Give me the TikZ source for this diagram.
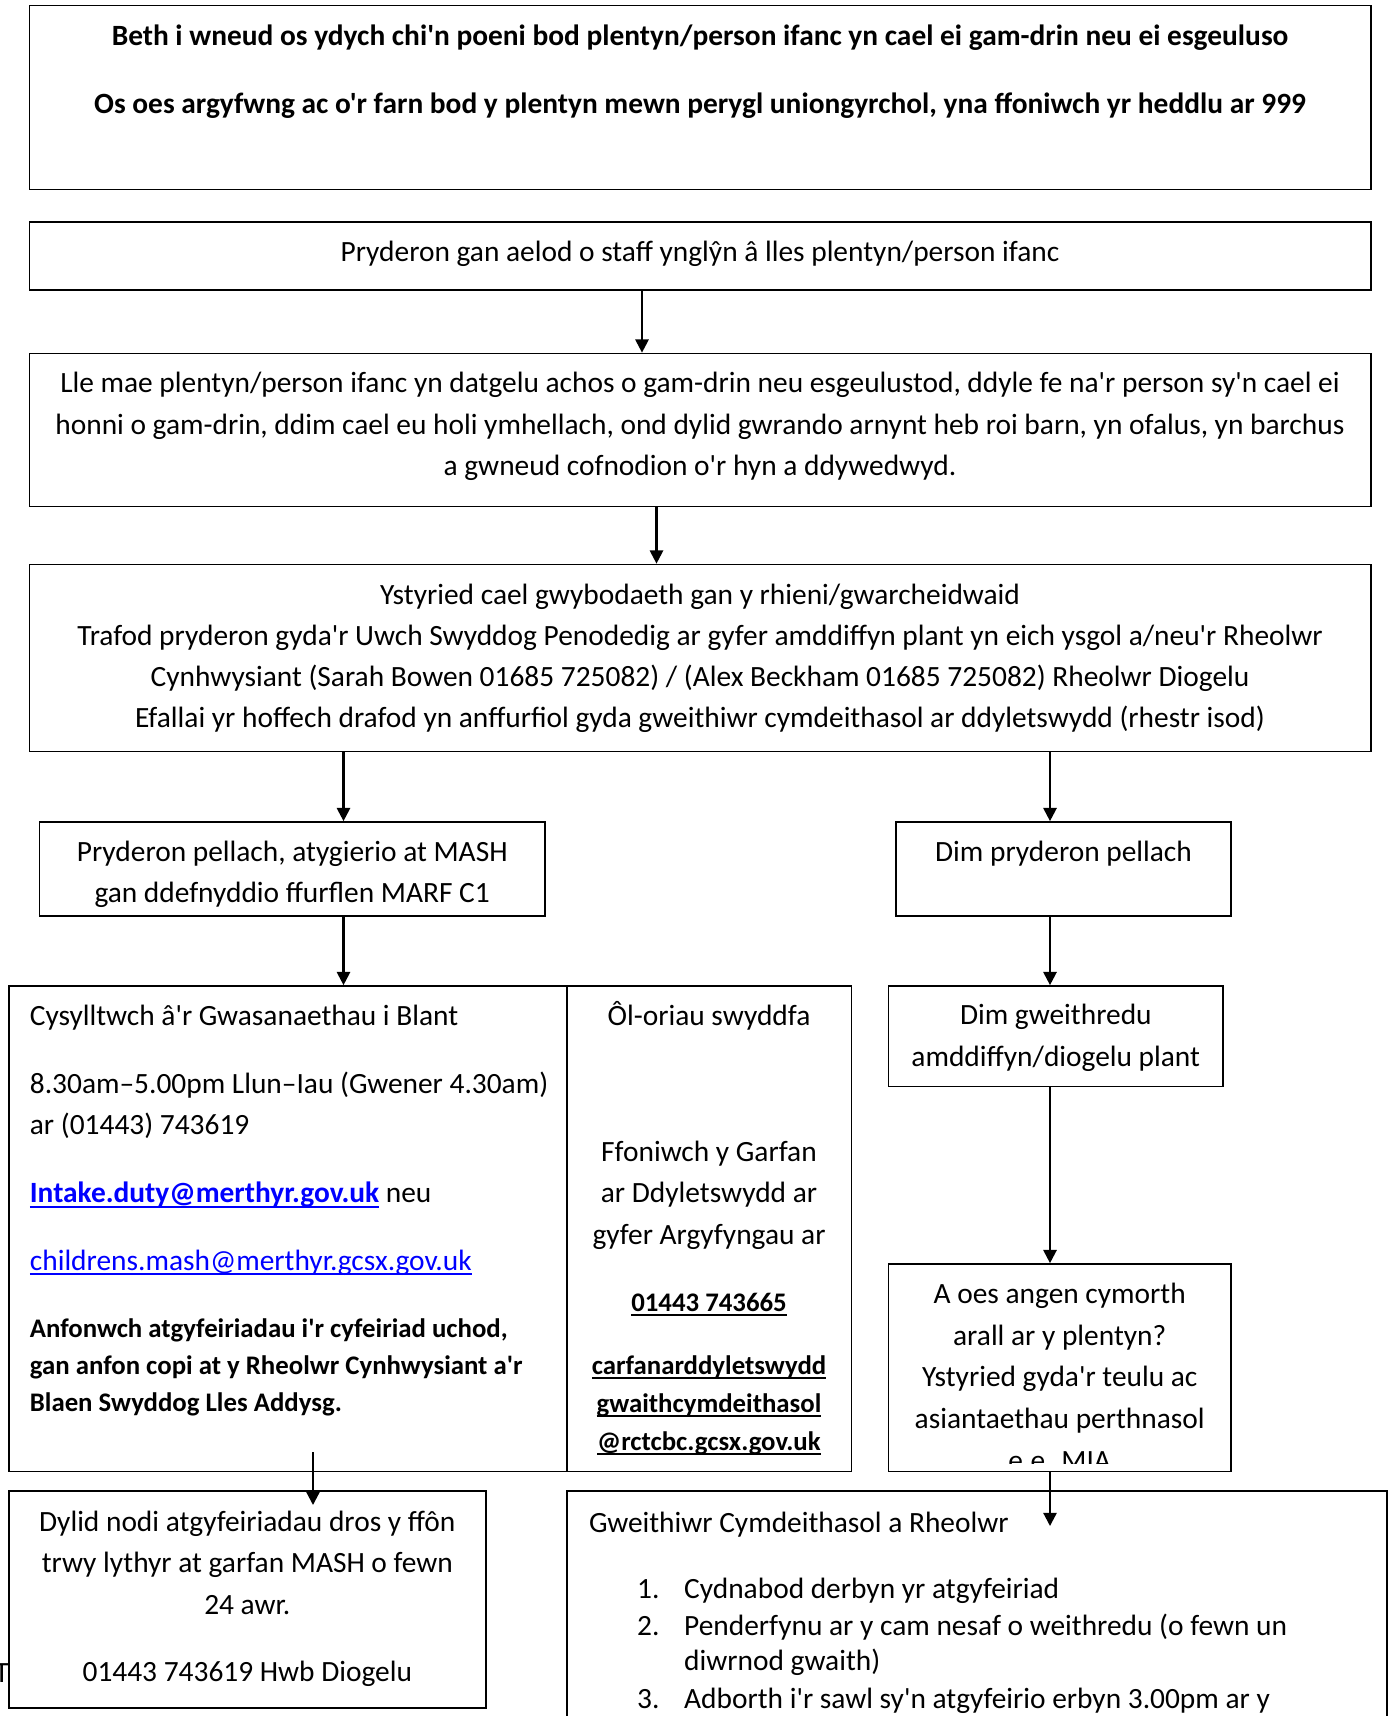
\documentclass[tikz,border=0pt]{standalone}
\usepackage{fontspec}
\setmainfont{Carlito}[Ligatures=TeXOff]
\usetikzlibrary{arrows.meta,fit}
\definecolor{linkblue}{RGB}{0,0,255}
\newcommand\bodyfont{\fontsize{14.7pt}{20.8pt}\selectfont}
\newcommand\smallbold{\fontsize{13.4pt}{18.5pt}\selectfont\bfseries}
\newcommand\wul[1]{\setbox0=\hbox{#1}\rlap{\rule[-0.17em]{\wd0}{0.065em}}\box0}
\begin{document}
\begin{tikzpicture}[x=0.5pt,y=-0.5pt,
  box/.style={draw, line width=0.85pt, inner sep=0pt, rectangle},
  txt/.style={inner sep=0pt, anchor=base, font=\bodyfont},
  ltxt/.style={inner sep=0pt, anchor=base west, font=\bodyfont},
  btxt/.style={txt, font=\bodyfont\bfseries},
  sbtxt/.style={txt, font=\smallbold},
  arr/.style={line width=1.1pt, -{Triangle[width=6.6pt,length=6.6pt]}}]
\useasboundingbox (0,0) rectangle (1395,1716);
\fill[white] (0,0) rectangle (1395,1716);
\clip (0,0) rectangle (1395,1716);

% boxes
\node[box, fit={(29.5,5.5) (1371,189.5)}] (b1) {};
\node[box, fit={(29.5,222) (1371,290)}] (b2) {};
\node[box, fit={(29.5,353.5) (1371,506.5)}] (b3) {};
\node[box, fit={(29.5,564.5) (1371,751.5)}] (b4) {};
\node[box, fit={(39.4,822) (545,916)}] (b5) {};
\node[box, fit={(896,822) (1231,916)}] (b6) {};
\node[box, fit={(8.75,986) (566.7,1471.6)}] (b7) {};
\node[box, fit={(566.7,986) (851.5,1471.6)}] (b8) {};
\node[box, fit={(888.4,986) (1223.3,1086.4)}] (b9) {};
\node[box, fit={(888.4,1264) (1231,1471.6)}] (b10) {};
\node[box, fit={(8.75,1491) (485.8,1708)}] (b11) {};
\node[box, fit={(566.7,1491) (1387.3,1760)}] (b12) {};

% texts
\node[btxt] (t1a) at (700,46) {Beth i wneud os ydych chi'n poeni bod plentyn/person ifanc yn cael ei gam-drin neu ei esgeuluso};
\node[btxt] (t1b) at (700,114) {Os oes argyfwng ac o'r farn bod y plentyn mewn perygl uniongyrchol, yna ffoniwch yr heddlu ar 999};

\node[txt] (t2) at (700,261.6) {Pryderon gan aelod o staff ynglŷn â lles plentyn/person ifanc};

\node[txt] (t3a) at (700,393) {Lle mae plentyn/person ifanc yn datgelu achos o gam-drin neu esgeulustod, ddyle fe na'r person sy'n cael ei};
\node[txt] (t3b) at (700,434.5) {honni o gam-drin, ddim cael eu holi ymhellach, ond dylid gwrando arnynt heb roi barn, yn ofalus, yn barchus};
\node[txt] (t3c) at (700,476) {a gwneud cofnodion o'r hyn a ddywedwyd.};

\node[txt] (t4a) at (700,604) {Ystyried cael gwybodaeth gan y rhieni/gwarcheidwaid};
\node[txt] (t4b) at (700,645.7) {Trafod pryderon gyda'r Uwch Swyddog Penodedig ar gyfer amddiffyn plant yn eich ysgol a/neu'r Rheolwr};
\node[txt] (t4c) at (700,686) {Cynhwysiant (Sarah Bowen 01685 725082) / (Alex Beckham 01685 725082) Rheolwr Diogelu};
\node[txt] (t4d) at (700,727.7) {Efallai yr hoffech drafod yn anffurfiol gyda gweithiwr cymdeithasol ar ddyletswydd (rhestr isod)};

\begin{scope}
\clip (39.4,822) rectangle (545,907);
\node[txt] (t5a) at (292.2,861) {Pryderon pellach, atygierio at MASH};
\node[txt] (t5b) at (292.2,902.7) {gan ddefnyddio ffurflen MARF C1};
\end{scope}

\node[txt] (t6) at (1063.5,861) {Dim pryderon pellach};

\node[ltxt] (t7a) at (29.5,1025) {Cysylltwch â'r Gwasanaethau i Blant};
\node[ltxt] (t7b) at (29.5,1093) {8.30am–5.00pm Llun–Iau (Gwener 4.30am)};
\node[ltxt] (t7c) at (29.5,1134.7) {ar (01443) 743619};
\node[ltxt] (t7d) at (29.5,1202.6) {\textcolor{linkblue}{\wul{\bfseries Intake.duty@merthyr.gov.uk}} neu};
\node[ltxt] (t7e) at (29.5,1270) {\textcolor{linkblue}{\wul{childrens.mash@merthyr.gcsx.gov.uk}}};
\node[ltxt, font=\smallbold] (t7f) at (29.5,1337) {Anfonwch atgyfeiriadau i'r cyfeiriad uchod,};
\node[ltxt, font=\smallbold] (t7g) at (29.5,1374) {gan anfon copi at y Rheolwr Cynhwysiant a'r};
\node[ltxt, font=\smallbold] (t7h) at (29.5,1411.5) {Blaen Swyddog Lles Addysg.};

\node[txt] (t8a) at (709,1025) {Ôl-oriau swyddfa};
\node[txt] (t8b) at (709,1161) {Ffoniwch y Garfan};
\node[txt] (t8c) at (709,1202.6) {ar Ddyletswydd ar};
\node[txt] (t8d) at (709,1244) {gyfer Argyfyngau ar};
\node[sbtxt] (t8e) at (709,1311) {\wul{01443 743665}};
\node[sbtxt] (t8f) at (709,1374) {\wul{carfanarddyletswydd}};
\node[sbtxt] (t8g) at (709,1412.6) {\wul{gwaithcymdeithasol}};
\node[sbtxt] (t8h) at (709,1450) {\wul{@rctcbc.gcsx.gov.uk}};

\node[txt] (t9a) at (1055.8,1024.5) {Dim gweithredu};
\node[txt] (t9b) at (1055.8,1066) {amddiffyn/diogelu plant};

\begin{scope}
\clip (888.4,1264) rectangle (1231,1463);
\node[txt] (t10a) at (1059.7,1303) {A oes angen cymorth};
\node[txt] (t10b) at (1059.7,1345) {arall ar y plentyn?};
\node[txt] (t10c) at (1059.7,1386.5) {Ystyried gyda'r teulu ac};
\node[txt] (t10d) at (1059.7,1428) {asiantaethau perthnasol};
\node[txt] (t10e) at (1059.7,1470) {e.e. MIA};
\end{scope}

\node[txt] (t11a) at (247.3,1531) {Dylid nodi atgyfeiriadau dros y ffôn};
\node[txt] (t11b) at (247.3,1572.5) {trwy lythyr at garfan MASH o fewn};
\node[txt] (t11c) at (247.3,1614) {24 awr.};
\node[txt] (t11d) at (247.3,1681.7) {01443 743619 Hwb Diogelu};

\node[ltxt] (t12) at (588.6,1532) {Gweithiwr Cymdeithasol a Rheolwr};
\node[ltxt] (n1) at (636.8,1598.6) {1.};
\node[ltxt] (l1) at (683.8,1598.6) {Cydnabod derbyn yr atgyfeiriad};
\node[ltxt] (n2) at (636.8,1635.7) {2.};
\node[ltxt] (l2) at (683.8,1635.7) {Penderfynu ar y cam nesaf o weithredu (o fewn un};
\node[ltxt] (l2b) at (683.8,1670.7) {diwrnod gwaith)};
\node[ltxt] (n3) at (636.8,1708) {3.};
\node[ltxt] (l3) at (683.8,1708) {Adborth i'r sawl sy'n atgyfeirio erbyn 3.00pm ar y};

\node[txt] (tstray) at (1.7,1682) {T};

% arrow coordinates
\coordinate (xa) at (642,0);
\coordinate (xb) at (656.5,0);
\coordinate (xc) at (343.5,0);
\coordinate (xd) at (1050,0);
\coordinate (s9) at (313,1452);
\coordinate (e9) at (313,1505);
\coordinate (e8) at (1050,1526);

\draw[arr] (b2.south -| xa) -- (b3.north -| xa);
\draw[arr] (b3.south -| xb) -- (b4.north -| xb);
\draw[arr] (b4.south -| xc) -- (b5.north -| xc);
\draw[arr] (b4.south -| xd) -- (b6.north -| xd);
\draw[arr] (b5.south -| xc) -- (b7.north -| xc);
\draw[arr] (b6.south -| xd) -- (b9.north -| xd);
\draw[arr] (b9.south -| xd) -- (b10.north -| xd);
\draw[arr] (b10.south -| xd) -- (e8);
\draw[arr] (s9) -- (e9);
\end{tikzpicture}
\end{document}
